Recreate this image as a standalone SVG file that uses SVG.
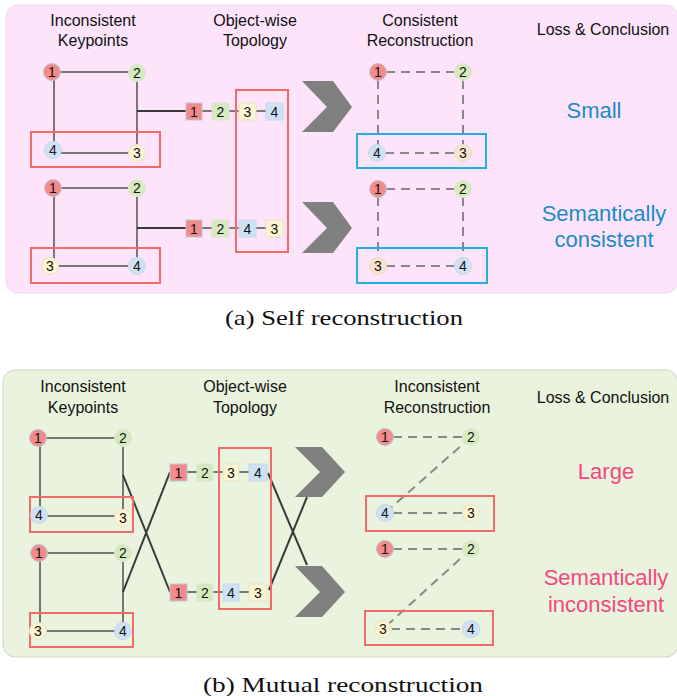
<svg xmlns="http://www.w3.org/2000/svg" width="677" height="696" viewBox="0 0 677 696">
<defs>
<style>
.hdr{font-family:"Liberation Sans",Arial,sans-serif;font-size:16px;fill:#111;text-anchor:middle}
.big{font-family:"Liberation Sans",Arial,sans-serif;font-size:22px;text-anchor:middle}
.blue{fill:#1a8cc6}
.pinkt{fill:#f2487e}
.cap{font-family:"Liberation Serif","DejaVu Serif",serif;font-size:21px;fill:#111;text-anchor:middle}
.num{font-family:"Liberation Sans",Arial,sans-serif;font-size:14px;fill:#111;text-anchor:middle;dominant-baseline:central}
.edge{stroke:#777;stroke-width:2;fill:none}
.conn{stroke:#3a3a3a;stroke-width:2;fill:none}
.dash{stroke:#888;stroke-width:2;fill:none;stroke-dasharray:9 6}
.redbox{fill:none;stroke:#f26a6a;stroke-width:2}
.bluebox{fill:none;stroke:#25aee0;stroke-width:2}
.c1{fill:#f28b8b;stroke:#b9c9d6;stroke-width:1}
.c2{fill:#d6e9bf;stroke:#dbe6d0;stroke-width:1}
.c3{fill:#fcf4d2;stroke:#e8e2c8;stroke-width:1}
.c3p{fill:#f6e4cc;stroke:#e8dccb;stroke-width:1}
.c4{fill:#cfe2f5;stroke:#c8d8e8;stroke-width:1}
.chev{fill:#808080}
</style>
</defs>

<!-- panels -->
<rect x="6" y="5" width="672" height="288" rx="12" fill="#fde4fa" stroke="#f3d9f0" stroke-width="1"/>
<rect x="3" y="370" width="675" height="287" rx="12" fill="#eaf3dd" stroke="#cfd6c8" stroke-width="1"/>

<!-- headers top -->
<g id="headers-a">
<text class="hdr" x="93" y="26">Inconsistent</text>
<text class="hdr" x="93" y="46">Keypoints</text>
<text class="hdr" x="255" y="26">Object-wise</text>
<text class="hdr" x="255" y="46">Topology</text>
<text class="hdr" x="420" y="26">Consistent</text>
<text class="hdr" x="420" y="46">Reconstruction</text>
<text class="hdr" x="603" y="35">Loss &amp; Conclusion</text>
</g>

<!-- headers bottom -->
<g id="headers-b">
<text class="hdr" x="83" y="392">Inconsistent</text>
<text class="hdr" x="83" y="413">Keypoints</text>
<text class="hdr" x="245" y="392">Object-wise</text>
<text class="hdr" x="245" y="413">Topology</text>
<text class="hdr" x="437" y="392">Inconsistent</text>
<text class="hdr" x="437" y="413">Reconstruction</text>
<text class="hdr" x="603" y="403">Loss &amp; Conclusion</text>
</g>

<!-- connectors -->
<g id="connectors">
<!-- (a) keypoint edges -->
<path class="edge" d="M52 72H137M54 72V150M137 72V153M53 153H137"/>
<path class="edge" d="M53 188H137M54 188V266M137 188V266M50 266H137"/>
<path class="conn" d="M137 111H186M137 228H186"/>
<!-- (a) topology chain -->
<path class="edge" d="M202 111H212M229 111H239M256 111H266M202 228H212M229 228H239M256 228H266"/>
<!-- (a) reconstruction dashed -->
<path class="dash" d="M386 72H455M378 80V145M463 80V145M385 153H455"/>
<path class="dash" d="M386 189H455M378 197V258M463 197V258M386 266H455"/>
<!-- (b) keypoint edges -->
<path class="edge" d="M38 438H123M40 438V515M123 438V518M39 516H123"/>
<path class="edge" d="M39 553H123M40 553V631M123 553V631M38 631H123"/>
<path class="conn" d="M123 475L170 592M123 592L170 472"/>
<!-- (b) topology chain -->
<path class="edge" d="M187 472H197M213 472H223M239 472H249M187 592H197M213 592H223M239 592H249"/>
<path class="conn" d="M268 473L307 565M269 590L307 497"/>
<!-- (b) reconstruction dashed -->
<path class="dash" d="M393 437H463M471 437L385 513M393 513H463"/>
<path class="dash" d="M393 549H463M471 549L383 629M391 629H463"/>
</g>

<!-- (a) keypoints group 1 -->
<g id="a-kp1">
<rect class="redbox" x="31" y="132" width="129" height="35"/>
<circle class="c1" cx="52" cy="72" r="8.5"/><text class="num" x="52" y="72">1</text>
<circle class="c2" cx="137" cy="73" r="8.5"/><text class="num" x="137" y="73">2</text>
<circle class="c4" cx="53" cy="150" r="8.5"/><text class="num" x="53" y="150">4</text>
<circle class="c3" cx="137" cy="153" r="8.5"/><text class="num" x="137" y="153">3</text>
</g>
<g id="a-kp2">
<rect class="redbox" x="31" y="248" width="129" height="35"/>
<circle class="c1" cx="53" cy="188" r="8.5"/><text class="num" x="53" y="188">1</text>
<circle class="c2" cx="137" cy="188" r="8.5"/><text class="num" x="137" y="188">2</text>
<circle class="c3" cx="50" cy="266" r="8.5"/><text class="num" x="50" y="266">3</text>
<circle class="c4" cx="137" cy="266" r="8.5"/><text class="num" x="137" y="266">4</text>
</g>

<!-- (a) topology -->
<g id="a-topo">
<rect class="redbox" x="236" y="90" width="52" height="162"/>
<rect class="c1" x="186" y="103" width="16" height="17"/><text class="num" x="194" y="111.5">1</text>
<rect class="c2" x="212" y="103" width="17" height="17"/><text class="num" x="220.5" y="111.5">2</text>
<rect class="c3" x="239" y="103" width="17" height="17"/><text class="num" x="247.5" y="111.5">3</text>
<rect class="c4" x="266" y="103" width="17" height="17"/><text class="num" x="274.5" y="111.5">4</text>
<rect class="c1" x="186" y="220" width="16" height="17"/><text class="num" x="194" y="228.5">1</text>
<rect class="c2" x="212" y="220" width="17" height="17"/><text class="num" x="220.5" y="228.5">2</text>
<rect class="c4" x="239" y="220" width="17" height="17"/><text class="num" x="247.5" y="228.5">4</text>
<rect class="c3" x="266" y="220" width="17" height="17"/><text class="num" x="274.5" y="228.5">3</text>
</g>

<!-- (a) chevrons -->
<g id="a-chevrons">
<polygon class="chev" points="302,81 333,81 352,107 333,132 302,132 327,107"/>
<polygon class="chev" points="302,202 333,202 352,228 333,253 302,253 327,228"/>
</g>

<!-- (a) reconstruction -->
<g id="a-rec1">
<rect class="bluebox" x="357" y="134" width="129" height="34"/>
<circle class="c1" cx="378" cy="72" r="8.5"/><text class="num" x="378" y="72">1</text>
<circle class="c2" cx="463" cy="72" r="8.5"/><text class="num" x="463" y="72">2</text>
<circle class="c4" cx="377" cy="153" r="8.5"/><text class="num" x="377" y="153">4</text>
<circle class="c3p" cx="463" cy="153" r="8.5"/><text class="num" x="463" y="153">3</text>
</g>
<g id="a-rec2">
<rect class="bluebox" x="357" y="248" width="130" height="35"/>
<circle class="c1" cx="378" cy="189" r="8.5"/><text class="num" x="378" y="189">1</text>
<circle class="c2" cx="463" cy="189" r="8.5"/><text class="num" x="463" y="189">2</text>
<circle class="c3p" cx="378" cy="266" r="8.5"/><text class="num" x="378" y="266">3</text>
<circle class="c4" cx="463" cy="266" r="8.5"/><text class="num" x="463" y="266">4</text>
</g>

<g id="a-loss">
<text class="big blue" x="594" y="118">Small</text>
<text class="big blue" x="604" y="221">Semantically</text>
<text class="big blue" x="604" y="247">consistent</text>
</g>

<text class="cap" x="344" y="325" textLength="238" lengthAdjust="spacingAndGlyphs">(a) Self reconstruction</text>

<!-- (b) keypoints -->
<g id="b-kp1">
<rect class="redbox" x="30" y="497" width="103" height="35"/>
<circle class="c1" cx="38" cy="438" r="8.5"/><text class="num" x="38" y="438">1</text>
<circle class="c2" cx="123" cy="438" r="8.5"/><text class="num" x="123" y="438">2</text>
<circle class="c4" cx="39" cy="515" r="8.5"/><text class="num" x="39" y="515">4</text>
<circle class="c3" cx="123" cy="518" r="8.5"/><text class="num" x="123" y="518">3</text>
</g>
<g id="b-kp2">
<rect class="redbox" x="30" y="613" width="103" height="34"/>
<circle class="c1" cx="39" cy="553" r="8.5"/><text class="num" x="39" y="553">1</text>
<circle class="c2" cx="123" cy="553" r="8.5"/><text class="num" x="123" y="553">2</text>
<circle class="c3" cx="38" cy="631" r="8.5"/><text class="num" x="38" y="631">3</text>
<circle class="c4" cx="123" cy="631" r="8.5"/><text class="num" x="123" y="631">4</text>
</g>

<!-- (b) topology -->
<g id="b-topo">
<rect class="redbox" x="219" y="448" width="52" height="161"/>
<rect class="c1" x="170" y="464" width="17" height="17"/><text class="num" x="178.5" y="472.5">1</text>
<rect class="c2" x="197" y="464" width="16" height="17"/><text class="num" x="205" y="472.5">2</text>
<rect class="c3" x="223" y="464" width="16" height="17"/><text class="num" x="231" y="472.5">3</text>
<rect class="c4" x="249" y="464" width="18" height="17"/><text class="num" x="258" y="472.5">4</text>
<rect class="c1" x="170" y="584" width="17" height="17"/><text class="num" x="178.5" y="592.5">1</text>
<rect class="c2" x="197" y="584" width="16" height="17"/><text class="num" x="205" y="592.5">2</text>
<rect class="c4" x="223" y="584" width="16" height="17"/><text class="num" x="231" y="592.5">4</text>
<rect class="c3" x="249" y="584" width="18" height="17"/><text class="num" x="258" y="592.5">3</text>
</g>

<g id="b-chevrons">
<polygon class="chev" points="295,447 322,447 345,472 322,497 295,497 320,472"/>
<polygon class="chev" points="295,566 322,566 345,592 322,617 295,617 320,592"/>
</g>

<!-- (b) reconstruction -->
<g id="b-rec1">
<rect class="redbox" x="366" y="496" width="128" height="35"/>
<circle class="c1" cx="385" cy="437" r="8.5"/><text class="num" x="385" y="437">1</text>
<circle class="c2" cx="471" cy="437" r="8.5"/><text class="num" x="471" y="437">2</text>
<circle class="c4" cx="385" cy="513" r="8.5"/><text class="num" x="385" y="513">4</text>
<circle class="c3" cx="471" cy="513" r="8.5"/><text class="num" x="471" y="513">3</text>
</g>
<g id="b-rec2">
<rect class="redbox" x="365" y="611" width="128" height="34"/>
<circle class="c1" cx="385" cy="549" r="8.5"/><text class="num" x="385" y="549">1</text>
<circle class="c2" cx="471" cy="549" r="8.5"/><text class="num" x="471" y="549">2</text>
<circle class="c3" cx="383" cy="629" r="8.5"/><text class="num" x="383" y="629">3</text>
<circle class="c4" cx="471" cy="629" r="8.5"/><text class="num" x="471" y="629">4</text>
</g>

<g id="b-loss">
<text class="big pinkt" x="606" y="479">Large</text>
<text class="big pinkt" x="606" y="585">Semantically</text>
<text class="big pinkt" x="606" y="612">inconsistent</text>
</g>

<text class="cap" x="343" y="692" textLength="280" lengthAdjust="spacingAndGlyphs">(b) Mutual reconstruction</text>
</svg>
